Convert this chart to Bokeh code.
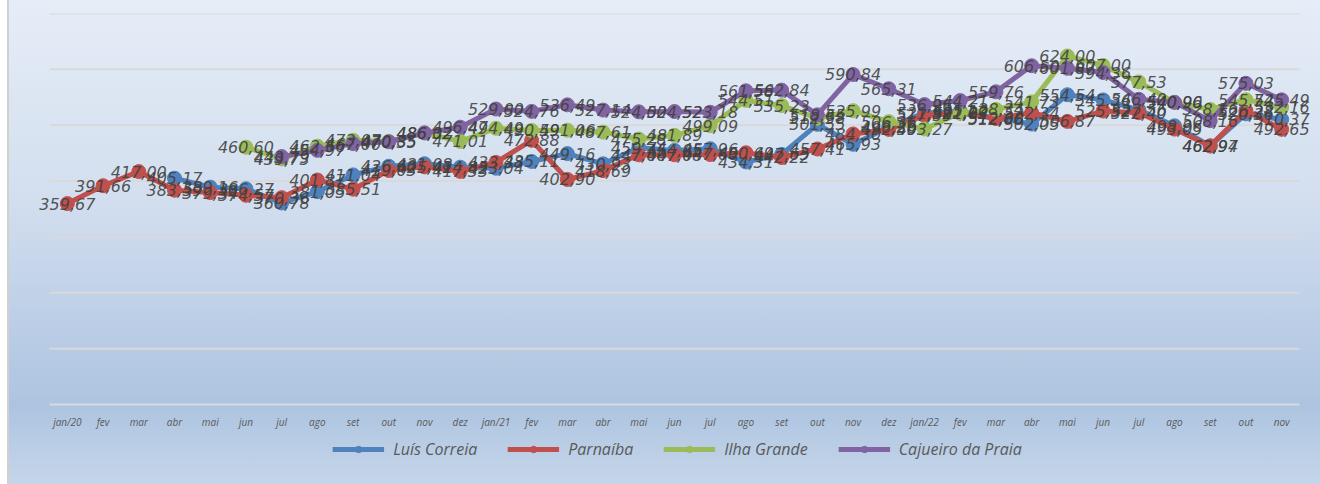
from bokeh.plotting import figure
from bokeh.models import ColumnDataSource, Range1d, FixedTicker, Legend, LegendItem
from bokeh.embed import file_html
from bokeh.resources import INLINE
from bokeh.core.properties import value

months = ["jan/20", "fev", "mar", "abr", "mai", "jun", "jul", "ago", "set", "out", "nov", "dez",
          "jan/21", "fev", "mar", "abr", "mai", "jun", "jul", "ago", "set", "out", "nov", "dez",
          "jan/22", "fev", "mar", "abr", "mai", "jun", "jul", "ago", "set", "out", "nov"]

N = None
luis_correia = [N, N, N, 405.17, 389.16, 386.27, 360.78, 381.05, 411.04, 426.60, 431.08, 424.85,
                423.04, 435.11, 449.16, 430.93, 459.74, 454.85, 457.96, 434.31, 447.65, 501.55, 465.93, 496.26,
                521.99, 525.10, 512.68, 502.05, 554.54, 545.36, 527.56, 498.96, 462.94, 520.36, 510.37]
parnaiba = [359.67, 391.66, 417.00, 383.59, 379.34, 374.57, 370.36, 401.87, 385.51, 419.03, 425.41, 417.33,
            433.38, 472.88, 402.90, 418.69, 447.00, 447.08, 447.60, 450.69, 442.22, 457.41, 484.30, 492.50,
            517.59, 521.63, 512.00, 522.34, 506.87, 525.32, 522.40, 493.05, 462.97, 526.28, 492.65]
ilha_grande = [N, N, N, N, N, 460.60, 439.73, 462.56, 473.07, 470.85, 486.02, 471.01,
               494.49, 490.59, 491.06, 487.61, 475.28, 481.89, 499.09, 544.51, 535.23, 512.58, 525.99, 506.36,
               493.27, 522.02, 528.34, 541.73, 624.00, 607.00, 577.53, 540.96, 528.16, 545.72, 532.16]
cajueiro = [N, N, N, N, N, N, 443.79, 454.97, 467.00, 470.35, 486.32, 496.47,
            529.00, 524.76, 536.49, 527.14, 524.00, 524.52, 523.18, 561.58, 562.84, 518.65, 590.84, 565.31,
            536.96, 544.21, 559.76, 606.50, 601.87, 594.36, 546.40, 540.90, 508.16, 575.03, 545.49]

series_names = ["Luís Correia", "Parnaíba", "Ilha Grande", "Cajueiro da Praia"]
series_values = [luis_correia, parnaiba, ilha_grande, cajueiro]
colors = ["#4f81bd", "#c0504d", "#9bbb59", "#8064a2"]
ticks_y = [0, 100, 200, 300, 400, 500, 600, 700]

n = len(months)
unit = 1250 / n              # px per category
left_pad = 13 / unit         # extra room so that edge labels are not clipped
right_pad = 19 / unit
px_per_val = 391 / 700       # vertical scale of the value area
y_bottom = -80 / px_per_val  # room below zero for month labels and legend

p = figure(width=1320, height=484, output_backend="svg", toolbar_location=None,
           x_range=Range1d(-0.5 - left_pad, n - 0.5 + right_pad), y_range=Range1d(y_bottom, 700),
           min_border_left=36, min_border_right=2, min_border_top=13, min_border_bottom=0,
           background_fill_color=None, border_fill_color=None, outline_line_color=None)
p.styles = {"background": ("linear-gradient(to right, #ffffff 0px, #ffffff 7px, #d0d0d0 7px, #d0d0d0 9px, "
                           "rgba(255,255,255,0) 9px), "
                           "linear-gradient(180deg, #e5edf7 0%, #d3dfef 40%, #b9cce5 70%, #adc4e0 84%, #c6d6ea 100%)")}

p.yaxis.visible = False
p.yaxis.ticker = FixedTicker(ticks=ticks_y)
p.ygrid.visible = False
p.xgrid.visible = False

# horizontal gridlines spanning the category area only
p.segment(x0=[-0.5] * len(ticks_y), x1=[n - 0.5] * len(ticks_y), y0=ticks_y, y1=ticks_y,
          line_color="#d9d9d9", line_width=2, level="underlay")

ax = p.xaxis[0]
ax.fixed_location = 0
ax.ticker = FixedTicker(ticks=list(range(n)))
ax.major_label_overrides = {i: m for i, m in enumerate(months)}
ax.axis_line_color = None
ax.major_tick_line_color = None
ax.minor_tick_line_color = None
ax.major_tick_out = 0
ax.major_tick_in = 0
ax.major_label_standoff = 10
ax.major_label_text_font = "Open Sans"
ax.major_label_text_font_style = "italic"
ax.major_label_text_font_size = "10px"
ax.major_label_text_color = "#595959"

items = []
label_sources = []
for name, vals, col in zip(series_names, series_values, colors):
    xs = list(range(len(vals)))
    ys = [v if v is not None else float("nan") for v in vals]
    src = ColumnDataSource(dict(x=xs, y=ys))
    lr = p.line("x", "y", source=src, line_color=col, line_width=5, line_join="round")
    sr = p.scatter("x", "y", source=src, size=14, fill_color=col, line_color=col)
    items.append(LegendItem(label=name, renderers=[lr, sr]))
    vx = [i for i, v in enumerate(vals) if v is not None]
    vy = [v for v in vals if v is not None]
    vt = [f"{v:.2f}".replace(".", ",") for v in vy]
    label_sources.append(ColumnDataSource(dict(x=vx, y=vy, t=vt)))

for src in label_sources:
    p.text("x", "y", text="t", source=src, text_align="center", text_baseline="middle",
           text_font=value("DejaVu Sans"), text_font_style="italic", text_font_size="16px",
           text_color="#404040", text_alpha=0.9)

legend = Legend(items=items, orientation="horizontal", location="bottom_center",
                background_fill_alpha=0, border_line_color=None,
                label_text_font="Open Sans", label_text_font_style="italic",
                label_text_font_size="16px", label_text_color="#595959",
                glyph_width=52, glyph_height=16, label_standoff=9, spacing=30,
                padding=4, margin=24)
p.add_layout(legend)

open("out.html", "w").write(file_html(p, INLINE))
